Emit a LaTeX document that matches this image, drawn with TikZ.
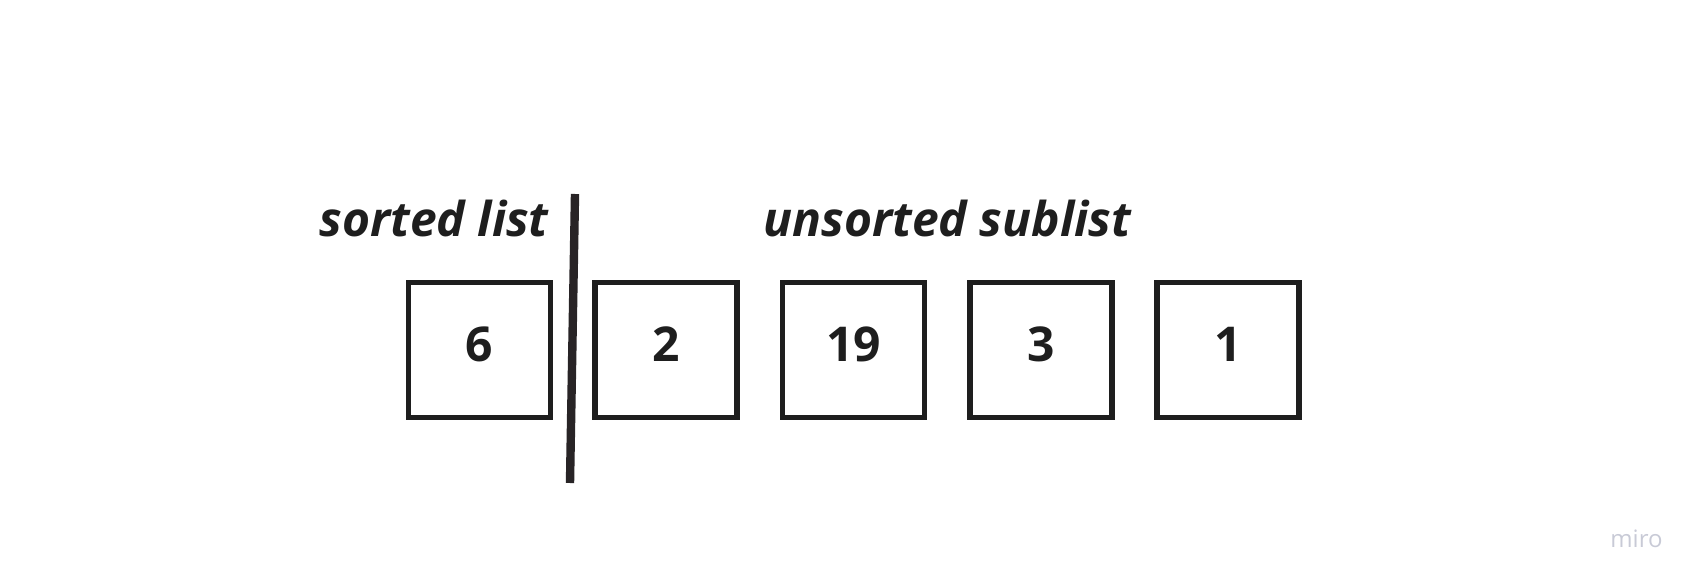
\documentclass[tikz,border=0pt]{standalone}
\usepackage{fontspec}
\setmainfont{Open Sans}
\definecolor{ink}{RGB}{30,30,30}
\definecolor{bar}{RGB}{40,36,38}
\definecolor{wm}{RGB}{200,202,214}
\begin{document}
\begin{tikzpicture}[x=0.5pt,y=-0.5pt,
  cell/.style={rectangle,draw=ink,line width=2.8pt,minimum width=71pt,minimum height=67.5pt,inner sep=0pt,text depth=6pt,text=ink,font=\fontsize{24}{28}\selectfont\bfseries},
  title/.style={inner sep=0pt,anchor=base west,text=ink,font=\fontsize{24}{28}\selectfont\bfseries\itshape}]
\useasboundingbox (0,0) rectangle (1702,587);
\node (SL) at (319,237) [title] {sorted list};
\node (UL) at (763,237) [title] {unsorted sublist};
\node (A) at (479.5,350) [cell] {6};
\node (B) at (666.1,350) [cell] {2};
\node (C) at (853.4,350) [cell] {19};
\node (D) at (1040.7,350) [cell] {3};
\node (E) at (1228,350) [cell] {1};
\coordinate (top) at (575,194);
\coordinate (bot) at (570,483);
\draw[bar,line width=4.2pt] (top) -- (bot);
\node (M) at (1610,547) [inner sep=0pt,anchor=base west,text=wm,font=\fontsize{12}{14}\selectfont] {miro};
\end{tikzpicture}
\end{document}
